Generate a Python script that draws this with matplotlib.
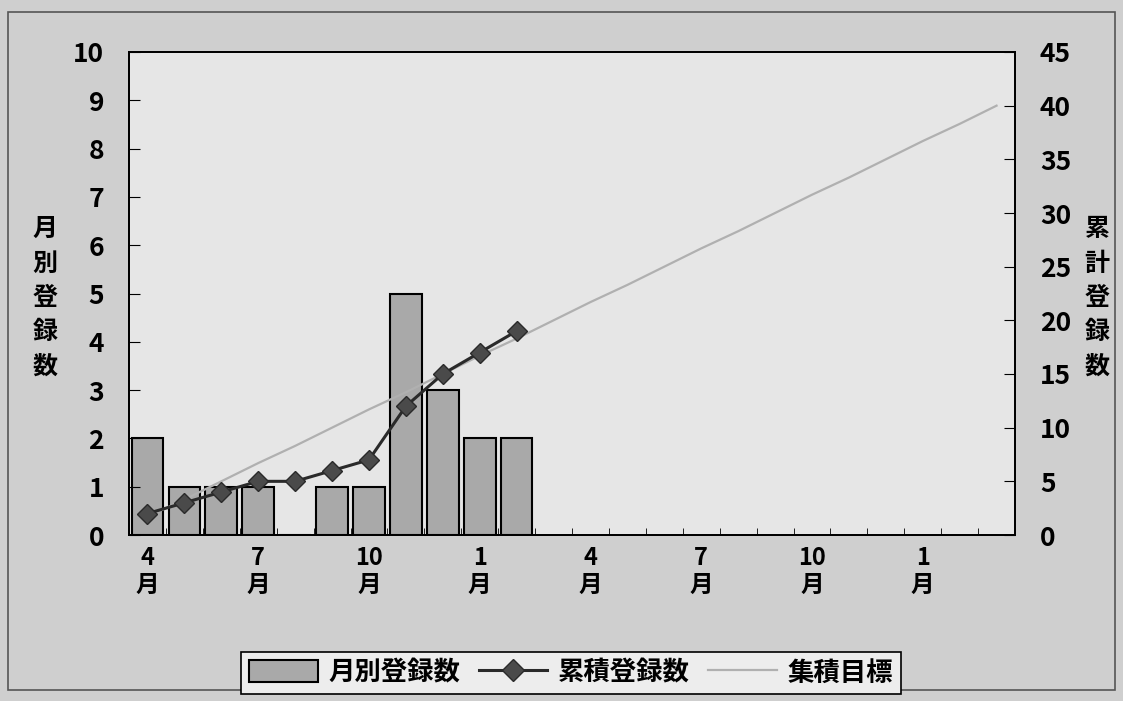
import matplotlib.pyplot as plt
import matplotlib.patches as mpatches
import matplotlib.lines as mlines
import numpy as np

plt.rcParams['font.family'] = ['Noto Sans CJK JP', 'DejaVu Sans']
plt.rcParams['font.weight'] = 'bold'

# 24 months, April through March two years later
month_labels = ['4\n月', '', '', '7\n月', '', '', '10\n月', '', '', '1\n月', '', '',
                '4\n月', '', '', '7\n月', '', '', '10\n月', '', '', '1\n月', '', '']
monthly = [2, 1, 1, 1, 0, 1, 1, 5, 3, 2, 2]
cumulative = [2, 3, 4, 5, 5, 6, 7, 12, 15, 17, 19]
target = [1.7, 3.3, 5.0, 6.7, 8.3, 10.0, 11.7, 13.3, 15.0, 16.7, 18.3, 20.0,
          21.7, 23.3, 25.0, 26.7, 28.3, 30.0, 31.7, 33.3, 35.0, 36.7, 38.3, 40.0]

fig = plt.figure(figsize=(11.23, 7.01), dpi=100, facecolor='#cfcfcf')
fig.patches.append(mpatches.Rectangle((8 / 1123, 1 - 690 / 701), 1107 / 1123, 678 / 701,
                                      transform=fig.transFigure, fill=False,
                                      edgecolor='#555555', lw=1.2))

ax = fig.add_axes([129 / 1123, 1 - 535 / 701, 886 / 1123, 483 / 701])
ax.set_facecolor('#e6e6e6')
ax2 = ax.twinx()

x = np.arange(len(month_labels))
ax.bar(x[:len(monthly)], monthly, width=0.86, color='#a9a9a9', edgecolor='black', lw=1.5)
ax2.plot(x, target, color='#b0b0b0', lw=1.6)
ax2.plot(x[:len(cumulative)], cumulative, color='#2a2a2a', lw=2.2, marker='D',
         markersize=10, markerfacecolor='#4a4a4a', markeredgecolor='#2a2a2a')

ax.set_xlim(-0.5, len(month_labels) - 0.5)
ax.set_ylim(0, 10)
ax2.set_ylim(0, 45)
ax.set_yticks(range(0, 11))
ax2.set_yticks(range(0, 46, 5))
ax.set_xticks(x)
ax.set_xticklabels(month_labels)
ax.set_xticks(np.arange(-0.5, len(month_labels)), minor=True)
ax.tick_params(axis='x', which='major', length=0, pad=8, labelsize=17)
ax.tick_params(axis='x', which='minor', direction='in', length=5)
ax.tick_params(axis='y', direction='in', length=8, pad=18, labelsize=19)
ax2.tick_params(axis='y', direction='in', length=8, pad=18, labelsize=19)
for lbl in ax.get_xticklabels():
    lbl.set_linespacing(1.15)

for a in (ax, ax2):
    for side in ('left', 'right', 'bottom', 'top'):
        a.spines[side].set_linewidth(1.3)
        a.spines[side].set_color('black')

fig.text(45 / 1123, 1 - 298 / 701, '月\n別\n登\n録\n数', ha='center', va='center',
         fontsize=18, linespacing=1.55)
fig.text(1097 / 1123, 1 - 298 / 701, '累\n計\n登\n録\n数', ha='center', va='center',
         fontsize=18, linespacing=1.55)

handles = [
    mpatches.Patch(facecolor='#a9a9a9', edgecolor='black', lw=1.5, label='月別登録数'),
    mlines.Line2D([], [], color='#2a2a2a', lw=2.2, marker='D', markersize=11,
                  markerfacecolor='#4a4a4a', markeredgecolor='#2a2a2a', label='累積登録数'),
    mlines.Line2D([], [], color='#b0b0b0', lw=1.6, label='集積目標'),
]
leg = fig.legend(handles=handles, loc='center', bbox_to_anchor=(571 / 1123, 1 - 673 / 701),
                 ncol=3, fontsize=19, frameon=True, fancybox=False, handlelength=2.6,
                 handleheight=0.9, handletextpad=0.4, columnspacing=0.7, borderpad=0.3)
leg.get_frame().set_edgecolor('black')
leg.get_frame().set_facecolor('#ededed')
leg.get_frame().set_linewidth(1.2)
leg.get_frame().set_alpha(1)

fig.savefig('out.png', dpi=100, facecolor=fig.get_facecolor())
